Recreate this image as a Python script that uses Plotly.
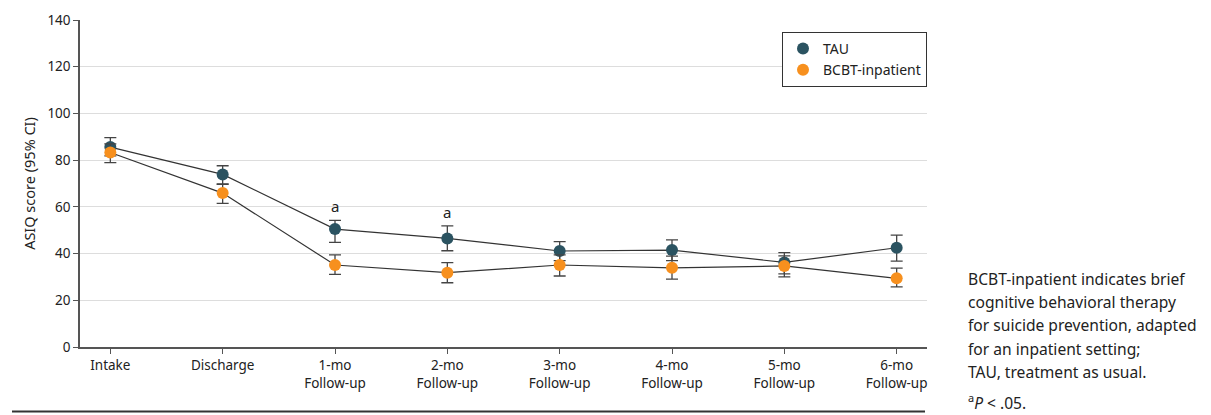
import plotly.graph_objects as go

categories = ["Intake", "Discharge", "1-mo<br>Follow-up", "2-mo<br>Follow-up", "3-mo<br>Follow-up",
              "4-mo<br>Follow-up", "5-mo<br>Follow-up", "6-mo<br>Follow-up"]
tau_mean = [85.6, 73.9, 50.5, 46.5, 41.1, 41.5, 36.2, 42.5]
tau_upper = [89.6, 77.6, 54.2, 51.9, 45.1, 45.9, 40.4, 47.9]
tau_lower = [81.8, 69.6, 44.8, 41.2, 37.0, 37.0, 31.3, 36.8]
bcbt_mean = [83.3, 65.9, 35.1, 31.8, 35.1, 33.9, 34.7, 29.4]
bcbt_upper = [87.0, 69.8, 39.4, 36.1, 39.4, 38.9, 39.0, 33.8]
bcbt_lower = [78.9, 61.5, 31.1, 27.5, 30.4, 29.1, 30.0, 25.7]
sig_idx = [2, 3]
yticks = [0, 20, 40, 60, 80, 100, 120, 140]
foot_lines = ["BCBT-inpatient indicates brief", "cognitive behavioral therapy",
              "for suicide prevention, adapted", "for an inpatient setting;",
              "TAU, treatment as usual."]
foot_sig = "<sup>a</sup><i>P</i> < .05."

xs = list(range(len(categories)))
FONT = "Noto Sans"
TXT = "#222222"

# page body has an 8px margin; plot area target: x 80..927, y 20..347 in window pixels
OFF = 8
PL, PR, PT, PB = 80, 927, 20, 347
PW, PH = PR - PL, PB - PT

def px(xw):
    return (xw - PL) / PW

def py(yw):
    return (PB - yw) / PH

fig = go.Figure()

for mean in (tau_mean, bcbt_mean):
    fig.add_trace(go.Scatter(x=xs, y=mean, mode="lines", showlegend=False, hoverinfo="skip",
                             line=dict(color="#333333", width=1.2)))

def add_series(name, mean, lo, hi, color):
    fig.add_trace(go.Scatter(
        x=xs, y=mean, name=name, mode="markers",
        marker=dict(color=color, size=12),
        error_y=dict(type="data", symmetric=False,
                     array=[h - m for h, m in zip(hi, mean)],
                     arrayminus=[m - l for m, l in zip(mean, lo)],
                     color="#444444", thickness=1.3, width=6),
    ))

add_series("TAU", tau_mean, tau_lower, tau_upper, "#2b5361")
add_series("BCBT-inpatient", bcbt_mean, bcbt_lower, bcbt_upper, "#f7901e")

annotations = []
for i in sig_idx:
    annotations.append(dict(x=xs[i], y=tau_upper[i], xref="x", yref="y", text="a",
                            showarrow=False, yanchor="bottom", yshift=2,
                            font=dict(family=FONT, size=15, color=TXT)))

x_note = px(966)
for k, line in enumerate(foot_lines):
    ypix = 279 + 23.2 * k
    annotations.append(dict(x=x_note, y=py(ypix), xref="paper", yref="paper",
                            text=line, showarrow=False, xanchor="left", yanchor="middle",
                            font=dict(family=FONT, size=15.6, color=TXT)))
annotations.append(dict(x=x_note, y=py(402), xref="paper", yref="paper",
                        text=foot_sig, showarrow=False,
                        xanchor="left", yanchor="middle",
                        font=dict(family=FONT, size=15.6, color=TXT)))

fig.update_layout(
    width=1211 - OFF, height=415 - OFF,
    margin=dict(l=PL - OFF, r=1211 - PR, t=PT - OFF, b=415 - PB, autoexpand=False),
    paper_bgcolor="white", plot_bgcolor="white",
    font=dict(family=FONT, size=13.5, color=TXT),
    showlegend=True,
    legend=dict(x=1.0, y=py(32), xanchor="right", yanchor="top",
                bordercolor="#333333", borderwidth=1, bgcolor="white",
                font=dict(family=FONT, size=14, color=TXT),
                tracegroupgap=0, itemwidth=30),
    annotations=annotations,
    shapes=[dict(type="line", xref="paper", yref="paper",
                 x0=px(12), x1=px(925),
                 y0=py(411.5), y1=py(411.5),
                 line=dict(color="#333333", width=2))],
)

fig.update_xaxes(range=[-0.27, 7.27], tickmode="array", tickvals=xs, ticktext=categories,
                 automargin=False,
                 showgrid=False, showline=True, linecolor="#555555", linewidth=1.5,
                 ticks="outside", ticklen=5, tickcolor="#555555", zeroline=False,
                 tickfont=dict(family=FONT, size=13.5, color=TXT))
fig.update_yaxes(range=[0, 140], tickmode="array", tickvals=yticks,
                 automargin=False,
                 showgrid=True, gridcolor="#dddddd", gridwidth=1,
                 showline=True, linecolor="#555555", linewidth=1.5,
                 ticks="outside", ticklen=5, tickcolor="#555555", zeroline=False,
                 title=dict(text="ASIQ score (95% CI)", standoff=8,
                            font=dict(family=FONT, size=14.5, color=TXT)),
                 tickfont=dict(family=FONT, size=13.5, color=TXT))

fig.write_html("out.html")
